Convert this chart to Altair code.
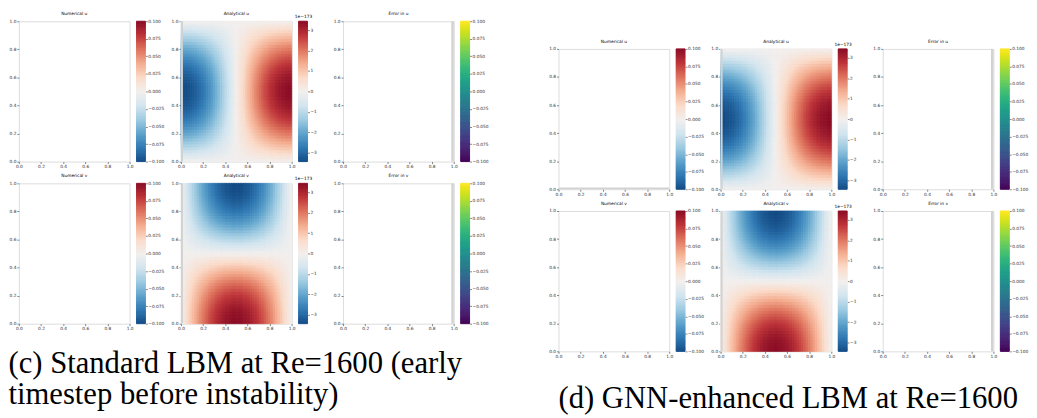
import altair as alt
import pandas as pd

TICK_FONT = "DejaVu Sans"
CAP_FONT = "Liberation Serif"

# ------------------------------------------------------------------ data
axis_ticks = [0.0, 0.2, 0.4, 0.6, 0.8, 1.0]
blank_cbar_range = [-0.1, 0.1]
blank_cbar_ticks = [-0.100, -0.075, -0.050, -0.025, 0.000, 0.025, 0.050, 0.075, 0.100]
analytic_cbar_range = [-3.43, 3.43]
analytic_cbar_ticks = [-3, -2, -1, 0, 1, 2, 3]
analytic_exponent = "1e\u2212173"

# analytical u along x at mid height (units of 1e-173), left -> right
u_mid_row = [-3.43, -3.41, -3.38, -3.34, -3.28, -3.21, -3.12, -3.02,
             -2.91, -2.79, -2.65, -2.50, -2.35, -2.18, -2.00, -1.81,
             -1.62, -1.42, -1.21, -1.00, -0.78, -0.56, -0.34, -0.11,
             0.11, 0.34, 0.56, 0.78, 1.00, 1.21, 1.42, 1.62,
             1.81, 2.00, 2.18, 2.35, 2.50, 2.65, 2.79, 2.91,
             3.02, 3.12, 3.21, 3.28, 3.34, 3.38, 3.41, 3.43]
# relative strength of u along y, bottom -> top
u_y_weight = [0.03, 0.10, 0.16, 0.23, 0.29, 0.35, 0.41, 0.47,
              0.53, 0.58, 0.63, 0.68, 0.73, 0.77, 0.81, 0.85,
              0.88, 0.91, 0.94, 0.96, 0.97, 0.99, 1.00, 1.00,
              1.00, 1.00, 0.99, 0.97, 0.96, 0.94, 0.91, 0.88,
              0.85, 0.81, 0.77, 0.73, 0.68, 0.63, 0.58, 0.53,
              0.47, 0.41, 0.35, 0.29, 0.23, 0.16, 0.10, 0.03]
# analytical v along y at mid width (units of 1e-173), bottom -> top
v_mid_col = [3.43, 3.41, 3.38, 3.34, 3.28, 3.21, 3.12, 3.02,
             2.91, 2.79, 2.65, 2.50, 2.35, 2.18, 2.00, 1.81,
             1.62, 1.42, 1.21, 1.00, 0.78, 0.56, 0.34, 0.11,
             -0.11, -0.34, -0.56, -0.78, -1.00, -1.21, -1.42, -1.62,
             -1.81, -2.00, -2.18, -2.35, -2.50, -2.65, -2.79, -2.91,
             -3.02, -3.12, -3.21, -3.28, -3.34, -3.38, -3.41, -3.43]
# relative strength of v along x, left -> right
v_x_weight = [0.03, 0.10, 0.16, 0.23, 0.29, 0.35, 0.41, 0.47,
              0.53, 0.58, 0.63, 0.68, 0.73, 0.77, 0.81, 0.85,
              0.88, 0.91, 0.94, 0.96, 0.97, 0.99, 1.00, 1.00,
              1.00, 1.00, 0.99, 0.97, 0.96, 0.94, 0.91, 0.88,
              0.85, 0.81, 0.77, 0.73, 0.68, 0.63, 0.58, 0.53,
              0.47, 0.41, 0.35, 0.29, 0.23, 0.16, 0.10, 0.03]

titles_u = ["Numerical u", "Analytical u", "Error in u"]
titles_v = ["Numerical v", "Analytical v", "Error in v"]
caption_c = ["(c) Standard LBM at Re=1600 (early", "timestep before instability)"]
caption_d = "(d) GNN-enhanced LBM at Re=1600"

# faint grey bands seen along some panel edges in the source figure
strip_left = [0.0, 0.018]
strip_right = [0.978, 1.0]
strip_bottom = [0.0, 0.012]

# ------------------------------------------------------------------ sizes
FS = 4.4
PW, PH = 112, 142
CBW = 9
COLGAP = 7
SPW = 21.5
ROWGAP = 22
INK = "#333333"
STRIP = "#d2d2d2"


def field_table(x_profile, y_profile):
    nx, ny = len(x_profile), len(y_profile)
    recs = []
    for i, a in enumerate(x_profile):
        for j, b in enumerate(y_profile):
            recs.append({"x0": i / nx, "x1": (i + 1) / nx,
                         "y0": j / ny, "y1": (j + 1) / ny, "val": a * b})
    return pd.DataFrame(recs)


u_table = field_table(u_mid_row, u_y_weight)
v_table = field_table(v_x_weight, v_mid_col)

unit = alt.Scale(domain=[0, 1], nice=False, zero=False)


def pos_axis(orient):
    return alt.Axis(orient=orient, values=axis_ticks, format=".1f", title=None,
                    grid=False, domain=False, ticks=True, tickSize=2,
                    tickWidth=0.6, tickColor=INK, labelFont=TICK_FONT,
                    labelFontSize=FS, labelColor=INK, labelPadding=1,
                    labelFlush=False, labelOverlap=False, labelBound=False)


def panel(title, table=None, strip=None):
    frame = alt.Chart(pd.DataFrame({"x": [0.0, 1.0], "y": [0.0, 1.0]})).mark_point(
        opacity=0).encode(
        x=alt.X("x:Q", scale=unit, axis=pos_axis("bottom")),
        y=alt.Y("y:Q", scale=unit, axis=pos_axis("left")))
    layers = []
    if table is not None:
        cs = alt.Scale(domain=analytic_cbar_range, scheme="redblue", reverse=True)
        layers.append(alt.Chart(table).mark_rect(strokeWidth=0.8).encode(
            x=alt.X("x0:Q", scale=unit, axis=pos_axis("bottom")), x2="x1:Q",
            y=alt.Y("y0:Q", scale=unit, axis=pos_axis("left")), y2="y1:Q",
            color=alt.Color("val:Q", scale=cs, legend=None),
            stroke=alt.Stroke("val:Q", scale=cs, legend=None)))
    if strip is not None:
        side, span = strip
        if side == "x":
            sdf = pd.DataFrame({"a": [span[0]], "b": [span[1]], "c": [0.0], "d": [1.0]})
        else:
            sdf = pd.DataFrame({"a": [0.0], "b": [1.0], "c": [span[0]], "d": [span[1]]})
        layers.append(alt.Chart(sdf).mark_rect(color=STRIP).encode(
            x=alt.X("a:Q", scale=unit, axis=pos_axis("bottom")), x2="b:Q",
            y=alt.Y("c:Q", scale=unit, axis=pos_axis("left")), y2="d:Q"))
    layers.append(frame)
    return alt.layer(*layers).properties(
        width=PW, height=PH,
        title=alt.TitleParams(title, fontSize=FS, font=TICK_FONT, fontWeight="normal",
                              color="#000000", offset=2))


def colorbar(rng, scheme, reverse, ticks, fmt, exponent=None):
    lo, hi = rng
    n = 120
    step = (hi - lo) / n
    ax = dict(orient="right", values=ticks, format=fmt, grid=False, domain=False,
              tickSize=2, tickWidth=0.6, tickColor=INK, labelFont=TICK_FONT,
              labelFontSize=FS, labelColor=INK, labelPadding=0.5, labelFlush=False,
              labelOverlap=False, labelBound=False)
    if exponent:
        ax.update(title=exponent, titleAngle=0, titleX=-4.5, titleY=-2.5,
                  titleAlign="center", titleBaseline="bottom", titleFont=TICK_FONT,
                  titleFontSize=FS, titleFontWeight="normal", titleColor="#000000")
    else:
        ax["title"] = None
    cs = alt.Scale(domain=[lo, hi], scheme=scheme, reverse=reverse)
    ys = alt.Scale(domain=[lo, hi], nice=False, zero=False)
    return alt.Chart(alt.sequence(0, n, as_="k")).transform_calculate(
        b0=f"{lo} + datum.k * {step}",
        b1=f"{lo} + (datum.k + 1) * {step}",
        mid=f"{lo} + (datum.k + 0.5) * {step}",
    ).mark_rect(strokeWidth=1.0).encode(
        x=alt.value(0), x2=alt.value("width"),
        y=alt.Y("b0:Q", scale=ys, axis=alt.Axis(**ax)), y2="b1:Q",
        color=alt.Color("mid:Q", scale=cs, legend=None),
        stroke=alt.Stroke("mid:Q", scale=cs, legend=None),
    ).properties(width=CBW, height=PH, view=alt.ViewBackground(stroke="transparent"))


def spacer(w, h):
    return alt.Chart(pd.DataFrame({"s": [0]})).mark_point(opacity=0).encode(
        x=alt.value(0), y=alt.value(0)).properties(
        width=w, height=h, view=alt.ViewBackground(stroke="transparent"))


def figure(caption, anchor, offset, top_pad=0, num_u_strip=None):
    cells = []
    if top_pad:
        cells += [spacer(1, top_pad) for _ in range(8)]
    for k, (titles, tab) in enumerate(((titles_u, u_table), (titles_v, v_table))):
        cells += [
            panel(titles[0], strip=num_u_strip if k == 0 else None),
            colorbar(blank_cbar_range, "redblue", True, blank_cbar_ticks, ".3f"),
            spacer(SPW, PH),
            panel(titles[1], tab, strip=("x", strip_left)),
            colorbar(analytic_cbar_range, "redblue", True, analytic_cbar_ticks, "d",
                     analytic_exponent),
            spacer(SPW, PH),
            panel(titles[2], strip=("x", strip_right)),
            colorbar(blank_cbar_range, "viridis", False, blank_cbar_ticks, ".3f"),
        ]
    return alt.concat(
        *cells, columns=8, spacing={"row": ROWGAP, "column": COLGAP}, bounds="flush",
        title=alt.TitleParams(caption, orient="bottom", anchor=anchor, font=CAP_FONT,
                              fontSize=31, fontWeight="normal", color="black",
                              lineHeight=31.5, offset=offset)
    ).resolve_scale(color="independent", stroke="independent")


left = figure(caption_c, "start", 19)
right = figure(caption_d, "middle", 26, top_pad=6, num_u_strip=("y", strip_bottom))

chart = alt.hconcat(left, right, spacing=59, padding=0).resolve_scale(
    color="independent", stroke="independent"
).configure_view(
    stroke="#555555", strokeWidth=0.8
).configure(background="white")

chart.save("out.html", embed_options={"renderer": "svg", "actions": False})
